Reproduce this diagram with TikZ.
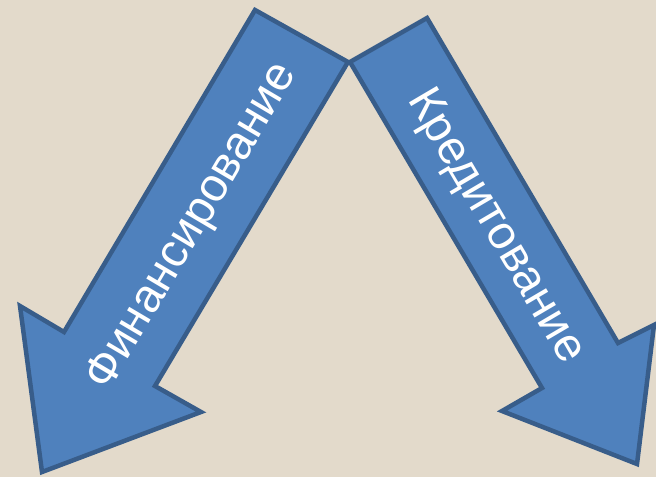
\documentclass[tikz,border=0pt]{standalone}
\usepackage{fontspec}
\setmainfont{Liberation Sans}
\definecolor{paper}{HTML}{E3DACB}
\definecolor{arrowfill}{HTML}{4F81BD}
\definecolor{arrowline}{HTML}{385D8A}
\begin{document}
\begin{tikzpicture}[x=1pt, y=-1pt,
                    bigarrow/.style = {fill = arrowfill,
                                       draw = arrowline,
                                       line width = 4.5pt,
                                       line join = miter},
                    mlabel/.style = {text = white,
                                     inner sep = 0pt,
                                     font = \fontsize{47}{56}\selectfont}]
		\fill[paper] (0,0) rectangle (656,477);
		\useasboundingbox (0,0) rectangle (656,477);
		% left arrow
		\coordinate (l1) at (255,10);
		\coordinate (l2) at (348,62);
		\coordinate (l3) at (155,386);
		\coordinate (l4) at (201,412);
		\coordinate (l5) at (42,472);
		\coordinate (l6) at (20,306);
		\coordinate (l7) at (64,332);
		\draw[bigarrow] (l1) -- (l2) -- (l3) -- (l4) -- (l5) -- (l6) -- (l7) -- cycle;
		% right arrow
		\coordinate (r1) at (350,62);
		\coordinate (r2) at (427,18);
		\coordinate (r3) at (618,343);
		\coordinate (r4) at (654,325);
		\coordinate (r5) at (637,464);
		\coordinate (r6) at (502,411);
		\coordinate (r7) at (542,388);
		\draw[bigarrow] (r1) -- (r2) -- (r3) -- (r4) -- (r5) -- (r6) -- (r7) -- cycle;
		\node[mlabel, rotate=59.4] (fin) at (193,227) {Финансирование};
		\node[mlabel, rotate=-59.5] (kred) at (495,227) {Кредитование};
	\end{tikzpicture}
\end{document}
